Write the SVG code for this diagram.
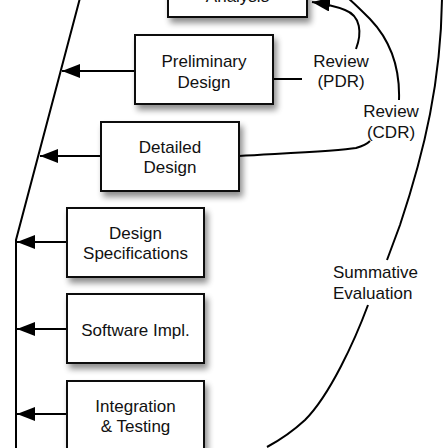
<svg xmlns="http://www.w3.org/2000/svg" width="448" height="448" viewBox="0 0 448 448">
<defs>
<filter id="sh" x="-20%" y="-20%" width="150%" height="160%">
<feGaussianBlur in="SourceAlpha" stdDeviation="3"/>
<feOffset dx="3" dy="5" result="b"/>
<feComponentTransfer><feFuncA type="linear" slope="0.45"/></feComponentTransfer>
<feMerge><feMergeNode/><feMergeNode in="SourceGraphic"/></feMerge>
</filter>
<marker id="ah" viewBox="0 0 18 14" refX="18" refY="7" markerWidth="18" markerHeight="14" markerUnits="userSpaceOnUse" orient="auto">
<path d="M0,0 L18,7 L0,14 Z" fill="#000"/>
</marker>
</defs>
<style>
.box{fill:#fff;stroke:#111;stroke-width:2;filter:url(#sh)}
.t{font-family:"Liberation Sans",Arial,sans-serif;font-size:17px;fill:#111;text-anchor:middle}
.l{fill:none;stroke:#000;stroke-width:2}
.a{fill:none;stroke:#000;stroke-width:2;marker-end:url(#ah)}
</style>
<rect width="448" height="448" fill="#fff"/>
<g id="connectors">
<path class="l" d="M80,-2 L16,240 L16,450"/>
<path class="a" d="M135,71 L62,71"/>
<path class="a" d="M101,156 L40,156"/>
<path class="a" d="M67,242 L17,242"/>
<path class="a" d="M67,329 L17,329"/>
<path class="a" d="M67,414 L17,414"/>
<path class="l" d="M273,79 L302,79"/>
<path class="a" d="M356,49 C362,33 361,16 345,10 C335,6 326,4 312,2"/>
<path class="l" d="M399,100 C400,70 392,42 370,19 C362,11 355,4 348,-2"/>
<path class="l" d="M239,156 C290,153 338,151 356,148 C363,146 367,144 370,141"/>
<path class="l" stroke-width="1.6" d="M442,-2 C441,80 425,150 400,225 L387,260"/>
<path class="l" stroke-width="1.6" d="M368,305 C355,340 330,395 305,420 C292,432 280,440 267,447"/>
</g>
<g id="analysis">
<rect class="box" x="168" y="-20" width="139" height="37"/>
<text class="t" x="237.5" y="2">Analysis</text>
</g>
<g id="preliminary">
<rect class="box" x="135" y="35" width="138" height="69"/>
<text class="t" x="204" y="67">Preliminary</text>
<text class="t" x="204" y="88">Design</text>
</g>
<g id="detailed">
<rect class="box" x="101" y="122" width="138" height="69"/>
<text class="t" x="170" y="153">Detailed</text>
<text class="t" x="170" y="173">Design</text>
</g>
<g id="specs">
<rect class="box" x="67" y="208" width="137" height="69"/>
<text class="t" x="135.5" y="239">Design</text>
<text class="t" x="135.5" y="259">Specifications</text>
</g>
<g id="impl">
<rect class="box" x="67" y="294" width="137" height="69"/>
<text class="t" x="135.5" y="336">Software Impl.</text>
</g>
<g id="integration">
<rect class="box" x="67" y="381" width="137" height="80"/>
<text class="t" x="135.5" y="412">Integration</text>
<text class="t" x="135.5" y="432">&amp; Testing</text>
</g>
<g id="pdr">
<text class="t" x="341" y="67">Review</text>
<text class="t" x="341" y="87">(PDR)</text>
</g>
<g id="cdr">
<text class="t" x="391" y="117">Review</text>
<text class="t" x="391" y="138">(CDR)</text>
</g>
<g id="summative">
<text class="t" x="333" y="278" style="text-anchor:start">Summative</text>
<text class="t" x="333" y="299" style="text-anchor:start">Evaluation</text>
</g>
</svg>
